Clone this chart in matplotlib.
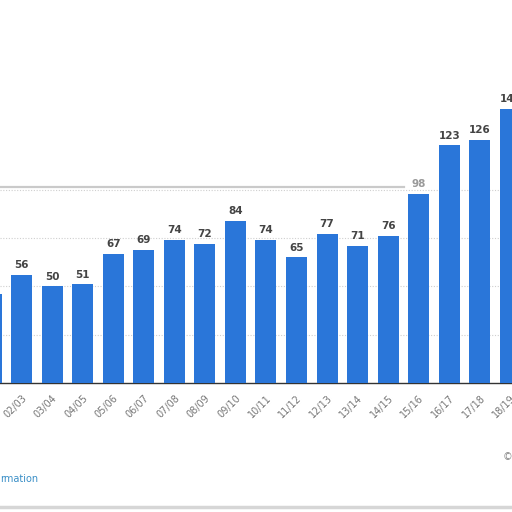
import matplotlib
matplotlib.use("Agg")
import matplotlib.pyplot as plt
from matplotlib.lines import Line2D

categories = ["01/02", "02/03", "03/04", "04/05", "05/06", "06/07", "07/08", "08/09",
              "09/10", "10/11", "11/12", "12/13", "13/14", "14/15", "15/16", "16/17",
              "17/18", "18/19"]
values = [46, 56, 50, 51, 67, 69, 74, 72, 84, 74, 65, 77, 71, 76, 98, 123, 126, 142]
grid_values = [25, 50, 75, 100]

W = 512
fig = plt.figure(figsize=(5.12, 5.12), dpi=100)
fig.patch.set_facecolor("white")

# pixel mapping: bar center i at x0 + step*i
step = 30.55
x0 = -9.0
left_idx = (0 - x0) / step
right_idx = (W - x0) / step
base_px = 383
unit = 1.932
ytop = 160
top_px = base_px - ytop * unit
ax = fig.add_axes([0, 1 - base_px / W, 1, (base_px - top_px) / W])
ax.set_facecolor("white")

xs = list(range(len(categories)))
ax.bar(xs, values, width=21 / step, color="#2a76d9", zorder=3)
for g in grid_values:
    ax.axhline(g, color="#cfcfcf", lw=0.8, ls=(0, (1, 1.5)), zorder=1)

for x, v in zip(xs, values):
    col = "#9a9a9a" if v == 98 else "#444444"
    ax.text(x, v + 2.5, str(v), ha="center", va="bottom", fontsize=7.5,
            fontweight="bold", color=col, zorder=4, clip_on=True)

for s in ["top", "right", "left"]:
    ax.spines[s].set_visible(False)
ax.spines["bottom"].set_color("#333333")
ax.spines["bottom"].set_linewidth(1)
ax.set_yticks([])
ax.set_xticks(xs)
ax.set_xticklabels(categories, rotation=45, ha="right", rotation_mode="anchor",
                   fontsize=7, color="#777777")
ax.tick_params(axis="x", length=0, pad=7)
ax.set_xlim(left_idx, right_idx)
ax.set_ylim(0, ytop)

# blurred overlay edge
fig.add_artist(Line2D([0, 0.79], [1 - 187 / W, 1 - 187 / W], color="#bdbdbd", lw=1.6,
                      alpha=0.8, zorder=5))
fig.add_artist(Line2D([0, 1], [1 - 507 / W, 1 - 507 / W], color="#d6d6d6", lw=2.5,
                      zorder=5))

fig.text(0.0, 1 - 479 / W, "rmation", fontsize=7, color="#3a8fc7", va="center", ha="left")
fig.text(1.0, 1 - 457 / W, "©", fontsize=7, color="#888888", va="center", ha="right")

fig.savefig("out.png", dpi=100, facecolor="white")
